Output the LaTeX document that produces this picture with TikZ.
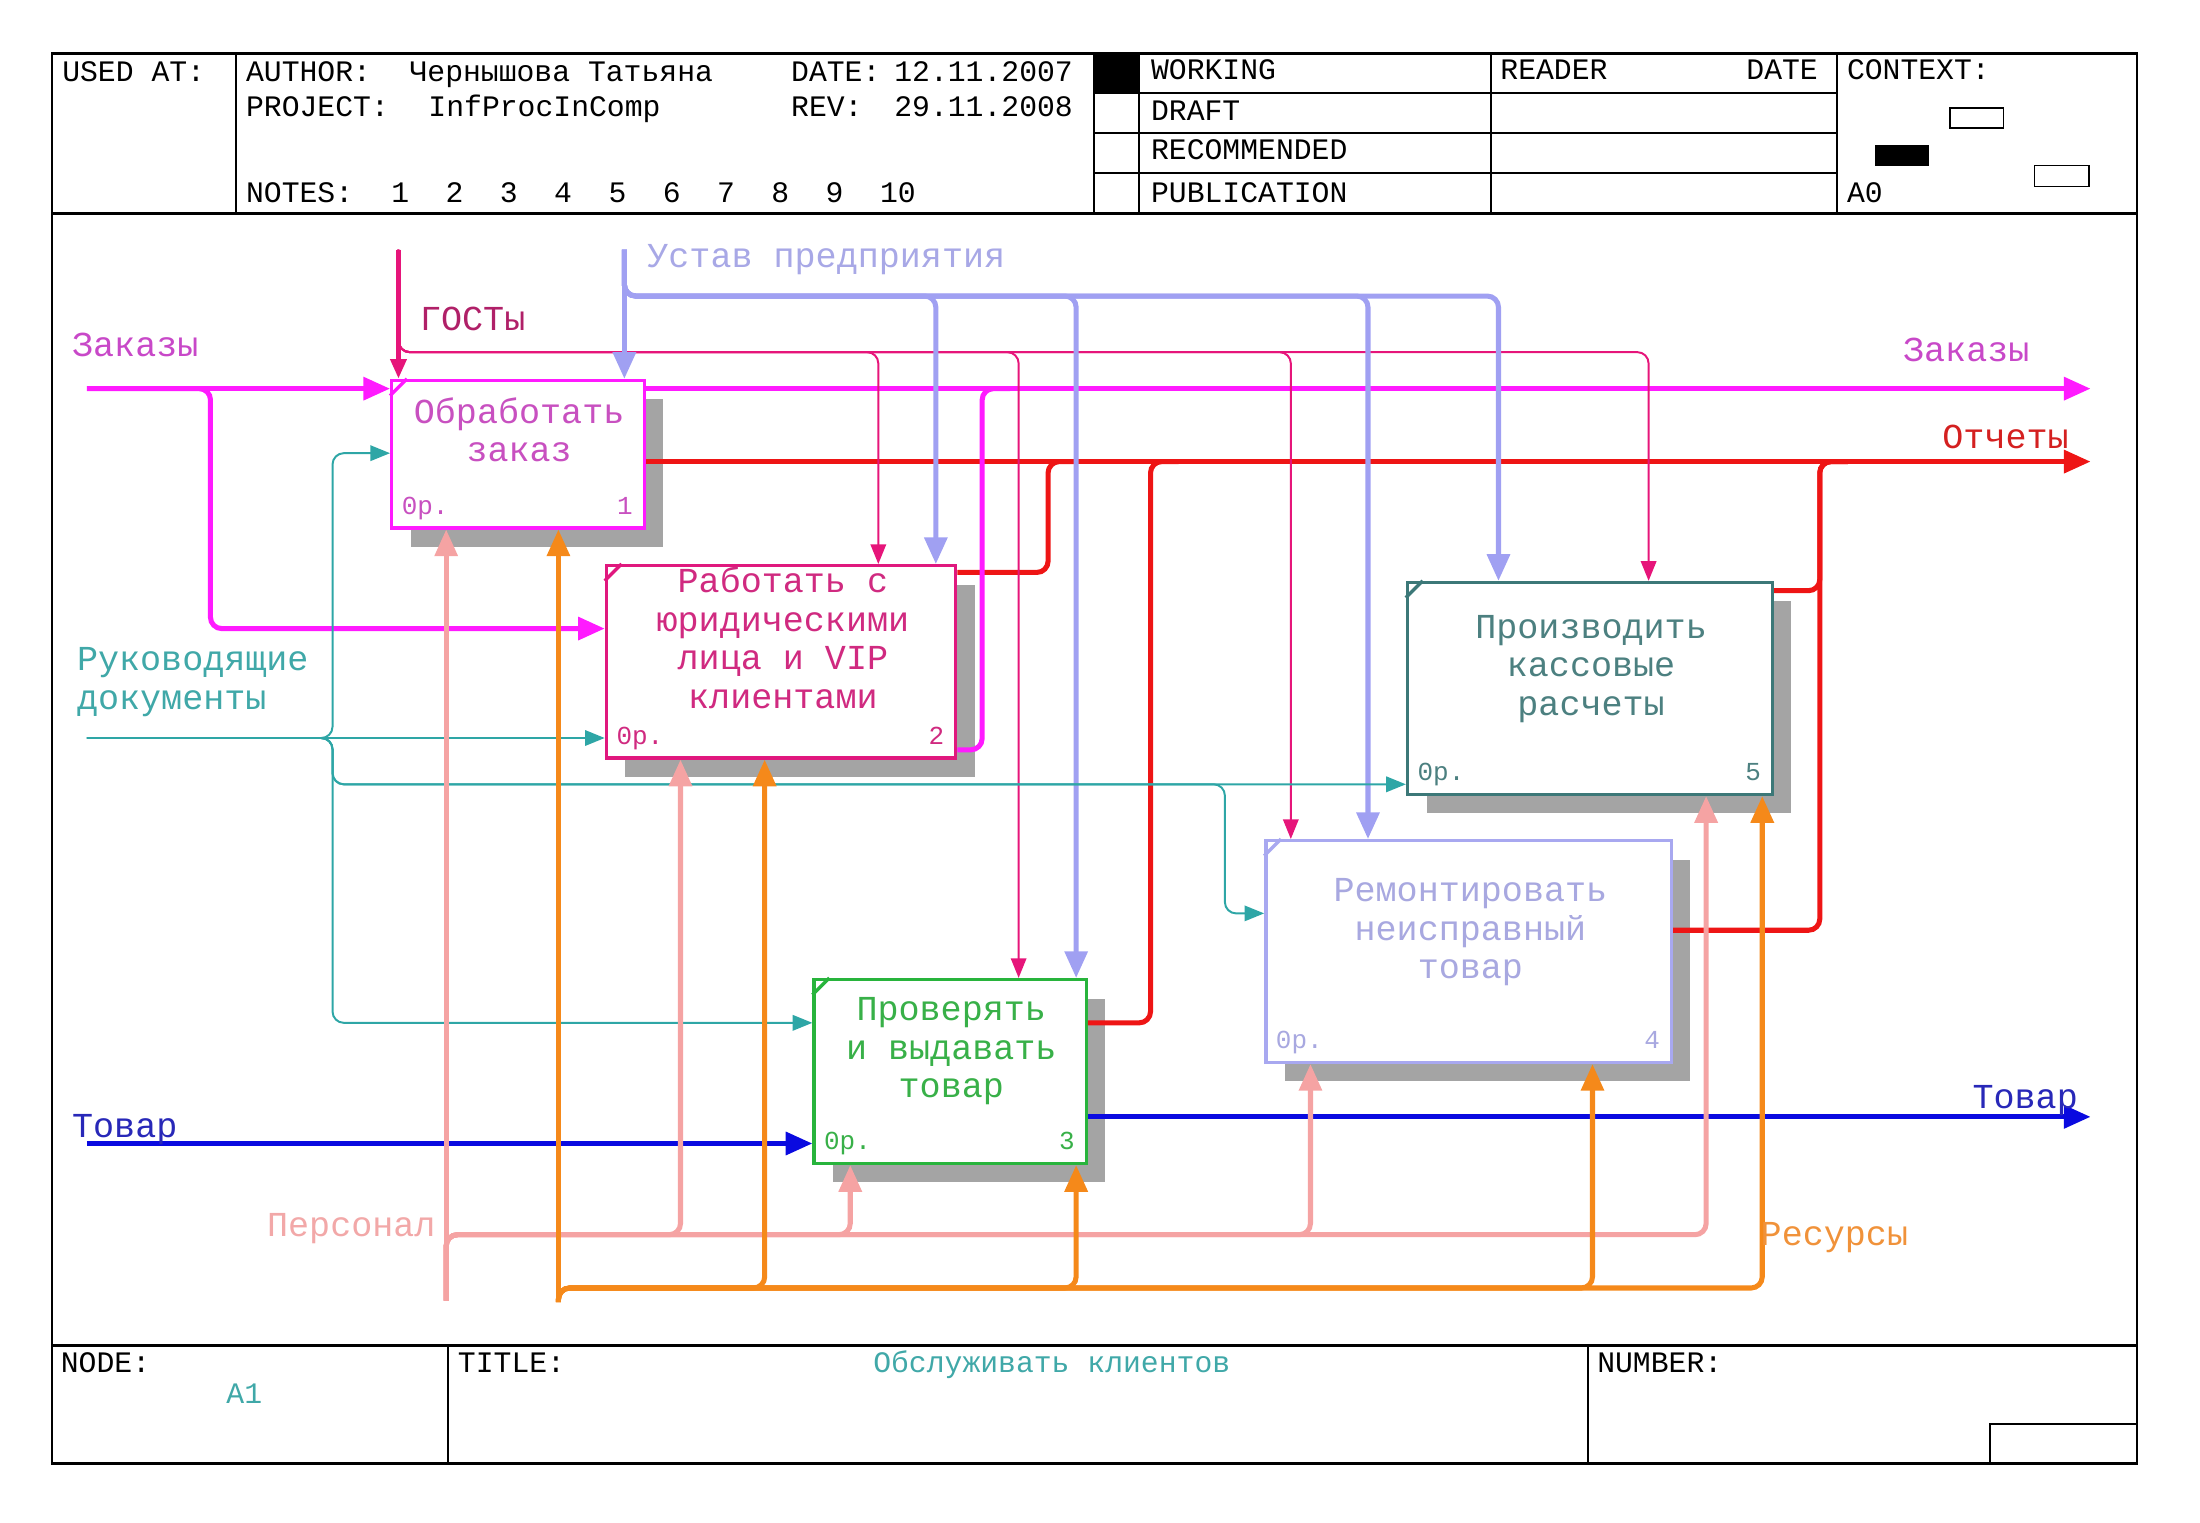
\documentclass[tikz,border=0pt]{standalone}
\usepackage{fontspec}
\setmainfont{Liberation Mono}
\usetikzlibrary{arrows.meta,calc,shadows}

\definecolor{zakC}{HTML}{FF1AFF}
\definecolor{zakT}{HTML}{C848C8}
\definecolor{otcC}{HTML}{EE1515}
\definecolor{otcT}{HTML}{D42020}
\definecolor{gostC}{HTML}{E6157A}
\definecolor{gostT}{HTML}{B02068}
\definecolor{ustC}{HTML}{A0A0F2}
\definecolor{ustT}{HTML}{A8A8E6}
\definecolor{rukC}{HTML}{2EA6A6}
\definecolor{rukT}{HTML}{40A8A8}
\definecolor{tovC}{HTML}{0A0AE0}
\definecolor{tovT}{HTML}{2828B8}
\definecolor{perC}{HTML}{F5A3A3}
\definecolor{perT}{HTML}{F2A8A8}
\definecolor{resC}{HTML}{F5891A}
\definecolor{resT}{HTML}{F0923A}
\definecolor{b1C}{HTML}{FF1AFF}
\definecolor{b1T}{HTML}{C850C0}
\definecolor{b2C}{HTML}{E0187E}
\definecolor{b2T}{HTML}{D02A80}
\definecolor{b3C}{HTML}{28B43C}
\definecolor{b3T}{HTML}{38B048}
\definecolor{b4C}{HTML}{A8A8F0}
\definecolor{b4T}{HTML}{A8A8E0}
\definecolor{b5C}{HTML}{3C7878}
\definecolor{b5T}{HTML}{4C8080}
\definecolor{shadC}{HTML}{A4A4A4}

\tikzset{
  Big/.tip={Triangle[length=9.5pt,width=8pt]},
  Sml/.tip={Triangle[length=7pt,width=5.5pt]},
  hdr/.style={font=\fontsize{10.6}{12}\selectfont, inner sep=0pt, anchor=base west},
  lbl/.style={font=\fontsize{12.5}{13.75}\selectfont, text=#1, inner sep=0pt, anchor=base west},
  btxt/.style={font=\fontsize{12.5}{13.75}\selectfont, text=#1, inner sep=0pt, align=center, anchor=base},
  otxt/.style={font=\fontsize{9.25}{10}\selectfont, text=#1, inner sep=0pt},
  fbox/.style={draw=#1, fill=white, line width=1.2pt, inner sep=0pt, anchor=north west,
    drop shadow={shadow xshift=6.75pt, shadow yshift=-6.75pt, fill=shadC, opacity=1}},
  con/.style={draw=#1, line width=1.8pt, rounded corners=4pt, -{Big}},
  fine/.style={draw=#1, line width=0.7pt, rounded corners=4pt, -{Sml}},
}

\begin{document}
\begin{tikzpicture}[x=0.5pt, y=-0.5pt]
\useasboundingbox (0,0) rectangle (1568,1085);

% frame and title blocks
\draw[line width=0.9pt] (37,38) rectangle (1523,1043);
\draw[line width=0.9pt] (37,152) -- (1523,152);
\draw[line width=0.9pt] (37,959) -- (1523,959);
\fill (780,38) rectangle (812,66);
\foreach \x in {168,780,812,1063,1309} \draw[line width=0.7pt] (\x,38) -- (\x,152);
\foreach \y in {66,95,123} \draw[line width=0.7pt] (780,\y) -- (1309,\y);
\draw[line width=0.7pt] (319,959) -- (319,1043);
\draw[line width=0.7pt] (1132,959) -- (1132,1043);
\draw[line width=0.7pt] (1418,1043) |- (1523,1015);
\draw[line width=0.6pt] (1390,77) rectangle (1428,91);
\fill (1336,103) rectangle (1375,118);
\draw[line width=0.6pt] (1450,118) rectangle (1489,133);

\node[hdr] (usedat) at (44,58) {USED AT:};
\node[hdr] (author) at (175,58) {AUTHOR:};
\node[hdr] (authn) at (291.5,58) {Чернышова Татьяна};
\node[hdr] (date) at (563.5,58) {DATE:};
\node[hdr] (dated) at (637,58) {12.11.2007};
\node[hdr] (project) at (175,83) {PROJECT:};
\node[hdr] (projn) at (305,83) {InfProcInComp};
\node[hdr] (rev) at (563.5,83) {REV:};
\node[hdr] (revd) at (637,83) {29.11.2008};
\node[hdr] (notes) at (175,144) {NOTES:};
\foreach \i in {1,...,10} \node[hdr] (note\i) at ({278.5+38.7*(\i-1)},144) {\i};
\node[hdr] (working) at (820,57) {WORKING};
\node[hdr] (draft) at (820,86) {DRAFT};
\node[hdr] (recom) at (820,114) {RECOMMENDED};
\node[hdr] (public) at (820,144) {PUBLICATION};
\node[hdr] (reader) at (1069,57) {READER};
\node[hdr, anchor=base east] (rdate) at (1296,57) {DATE};
\node[hdr] (context) at (1316,57) {CONTEXT:};
\node[hdr] (ctxnode) at (1316,144) {A0};
\node[hdr] (nodel) at (43,978) {NODE:};
\node[hdr, text=rukT] (noden) at (161,1000.5) {A1};
\node[hdr] (titlel) at (326,978) {TITLE:};
\node[hdr, text=rukT] (titlen) at (622,978) {Обслуживать клиентов};
\node[hdr] (numberl) at (1138,978) {NUMBER:};

% activity boxes
\node[fbox=b1C, minimum width=90pt, minimum height=52.5pt] (b1) at (278,270) {};
\node[fbox=b2C, minimum width=124.5pt, minimum height=68.5pt] (b2) at (431,402) {};
\node[fbox=b3C, minimum width=97pt, minimum height=65.5pt] (b3) at (579,697) {};
\node[fbox=b4C, minimum width=144.5pt, minimum height=79pt] (b4) at (901,598) {};
\node[fbox=b5C, minimum width=130pt, minimum height=75.5pt] (b5) at (1002,414) {};

% base of a multi-line node is its last line
\node[btxt=b1T] (t1) at (370,329) {Обработать\\заказ};
\node[btxt=b2T] (t2) at (558,505) {Работать с\\юридическими\\лица и VIP\\клиентами};
\node[btxt=b3T] (t3) at (678,782.5) {Проверять\\и выдавать\\товар};
\node[btxt=b4T] (t4) at (1048,697.5) {Ремонтировать\\неисправный\\товар};
\node[btxt=b5T] (t5) at (1134,510) {Производить\\кассовые\\расчеты};

\foreach \b/\c/\t/\n in {b1/b1C/b1T/1, b2/b2C/b2T/2, b3/b3C/b3T/3, b4/b4C/b4T/4, b5/b5C/b5T/5} {
  \draw[\c, line width=1.2pt] ($(\b.north west)+(0,12)$) -- ($(\b.north west)+(12,0)$);
  \node[otxt=\t, anchor=base west] (\b-o) at ($(\b.south west)+(8,-11)$) {0р.};
  \node[otxt=\t, anchor=base east] (\b-n) at ($(\b.south east)+(-9,-11)$) {\n};
}

% free ends and joints
\coordinate (zin) at (62,277);
\coordinate (zj) at (150,277);
\coordinate (zm) at (700,277);
\coordinate (zout) at (1490,277);
\coordinate (om2) at (747,329);
\coordinate (om3) at (820,329);
\coordinate (om5) at (1297,329);
\coordinate (oout) at (1490,329);
\coordinate (gtop) at (284,178);
\coordinate (gj) at (284,251);
\coordinate (utop) at (445,178);
\coordinate (uj) at (445,211);
\coordinate (rin) at (62,526);
\coordinate (rj) at (237,526);
\coordinate (rk) at (873,559);
\coordinate (tin) at (62,815);
\coordinate (tout) at (1490,796);
\coordinate (pbot) at (318,927);
\coordinate (pj) at (318,880);
\coordinate (sbot) at (398,928);
\coordinate (sj) at (398,918);

% outputs
\draw[con=otcC] ($(b1.north east)+(0,59)$) -- (oout);
\draw[con=otcC, -] ($(b2.north east)+(0,6)$) -| (om2) -- ++(20,0);
\draw[con=otcC, -] ($(b3.north east)+(0,32)$) -| (om3) -- ++(20,0);
\draw[con=otcC, -] ($(b5.north east)+(0,7)$) -| (om5) -- ++(20,0);
\draw[con=otcC, -] ($(b4.north east)+(0,65)$) -| (om5) -- ++(20,0);
\draw[con=zakC] (zin) -- (zin -| b1.west);
\draw[con=zakC] (zin) -- (zj) |- ($(b2.north west)+(0,46)$);
\draw[con=zakC] ($(b1.north east)+(0,7)$) -- (zout);
\draw[con=zakC, -] ($(b2.south east)+(0,-7)$) -| (zm) -- ++(20,0);

% controls
\draw[fine=gostC] (gtop) -- (gj) -| ($(b2.north west)+(195,0)$);
\draw[fine=gostC] (gtop) -- (gj) -| ($(b3.north west)+(147,0)$);
\draw[fine=gostC] (gtop) -- (gj) -| ($(b4.north west)+(19,0)$);
\draw[fine=gostC] (gtop) -- (gj) -| ($(b5.north west)+(173,0)$);
\draw[con=gostC, -{Sml}] (gtop) -- (gtop |- b1.north);
\draw[con=ustC] (utop) -- (utop |- b1.north);
\draw[con=ustC] (utop) -- (uj) -| ($(b2.north west)+(236,0)$);
\draw[con=ustC] (utop) -- (uj) -| ($(b3.north west)+(188,0)$);
\draw[con=ustC] (utop) -- (uj) -| ($(b4.north west)+(74,0)$);
\draw[con=ustC] (utop) -- (uj) -| ($(b5.north west)+(66,0)$);
\draw[fine=rukC] (rin) -- (rin -| b2.west);
\draw[fine=rukC] (rin) -- (rj) |- ($(b1.north west)+(0,53)$);
\draw[fine=rukC] (rin) -- (rj) |- ($(b3.north west)+(0,32)$);
\draw[fine=rukC] (rin) -- (rj) |- ($(b5.north west)+(0,145)$);
\draw[fine=rukC] (rin) -- (rj) |- (rk) |- ($(b4.north west)+(0,53)$);

% Товар
\draw[con=tovC] (tin) -- (tin -| b3.west);
\draw[con=tovC] ($(b3.north east)+(0,99)$) -- (tout);

% mechanisms
\draw[con=perC] (pbot) -- (pbot |- b1.south);
\draw[con=perC] (pbot) -- (pj) -| ($(b2.south west)+(54,0)$);
\draw[con=perC] (pbot) -- (pj) -| ($(b3.south west)+(27,0)$);
\draw[con=perC] (pbot) -- (pj) -| ($(b4.south west)+(33,0)$);
\draw[con=perC] (pbot) -- (pj) -| ($(b5.south west)+(214,0)$);
\draw[con=resC] (sbot) -- (sbot |- b1.south);
\draw[con=resC] (sbot) -- (sj) -| ($(b2.south west)+(114,0)$);
\draw[con=resC] (sbot) -- (sj) -| ($(b3.south west)+(188,0)$);
\draw[con=resC] (sbot) -- (sj) -| ($(b4.south west)+(234,0)$);
\draw[con=resC] (sbot) -- (sj) -| ($(b5.south west)+(254,0)$);

% arrow labels
\node[lbl=zakT] (zl) at (51,254) {Заказы};
\node[lbl=zakT] (zr) at (1356,257.5) {Заказы};
\node[lbl=otcT] (ol) at (1384,320) {Отчеты};
\node[lbl=gostT] (gl) at (299,235.5) {ГОСТы};
\node[lbl=ustT] (ul) at (461,190.5) {Устав предприятия};
\node[lbl=rukT] (rl1) at (54.5,478) {Руководящие};
\node[lbl=rukT] (rl2) at (54.5,505.5) {документы};
\node[lbl=tovT] (tl) at (51,810.5) {Товар};
\node[lbl=tovT] (tr) at (1405.5,790) {Товар};
\node[lbl=perT] (pl) at (190,881) {Персонал};
\node[lbl=resT] (sl) at (1254.5,888) {Ресурсы};
\end{tikzpicture}
\end{document}
